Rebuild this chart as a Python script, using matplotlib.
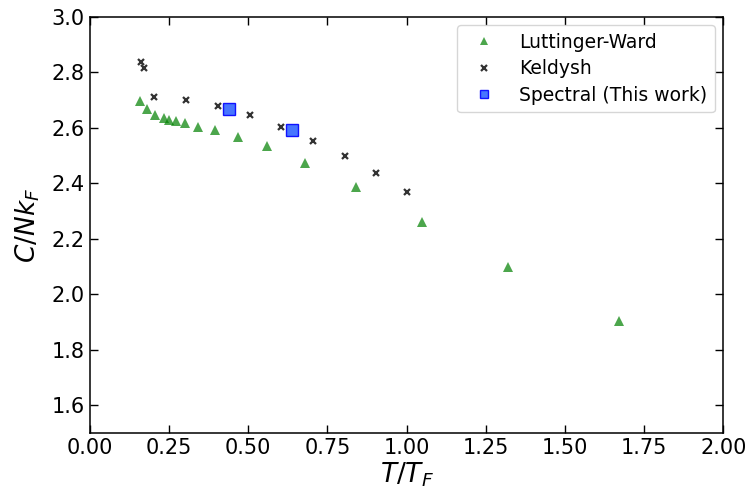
import matplotlib
matplotlib.use('Agg')
import matplotlib.pyplot as plt

# Contact C/Nk_F versus reduced temperature T/T_F
lw_t = [0.158, 0.181, 0.205, 0.233, 0.251, 0.272, 0.302, 0.342, 0.396,
        0.467, 0.559, 0.680, 0.839, 1.048, 1.319, 1.671]
lw_c = [2.695, 2.667, 2.646, 2.634, 2.629, 2.623, 2.617, 2.604, 2.593,
        2.568, 2.533, 2.473, 2.385, 2.259, 2.097, 1.902]

keldysh_t = [0.163, 0.172, 0.202, 0.304, 0.405, 0.506, 0.604, 0.706,
             0.805, 0.904, 1.002]
keldysh_c = [2.838, 2.817, 2.711, 2.701, 2.680, 2.648, 2.603, 2.553,
             2.499, 2.437, 2.368]

spectral_t = [0.439, 0.638]
spectral_c = [2.668, 2.594]

fig = plt.figure(figsize=(7.48, 4.96), dpi=100)
ax = fig.add_axes([0.120, 0.127, 0.847, 0.839])

ax.plot(lw_t, lw_c, '^', color='green', alpha=0.7, markersize=7,
        markeredgewidth=0, label='Luttinger-Ward')
ax.plot(keldysh_t, keldysh_c, 'x', color='black', alpha=0.8, markersize=5,
        markeredgewidth=1.6, label='Keldysh')
ax.plot(spectral_t, spectral_c, 's', color='#3366ff', markeredgecolor='blue',
        markeredgewidth=1.0, alpha=0.9, markersize=8,
        label='Spectral (This work)')

ax.set_xlim(0.0, 2.0)
ax.set_ylim(1.5, 3.0)
ax.set_xticks([0.0, 0.25, 0.5, 0.75, 1.0, 1.25, 1.5, 1.75, 2.0])
ax.set_yticks([1.6, 1.8, 2.0, 2.2, 2.4, 2.6, 2.8, 3.0])
ax.set_xlabel(r'$T/T_F$', fontsize=19, labelpad=2)
ax.set_ylabel(r'$C/Nk_F$', fontsize=19)
ax.yaxis.set_label_coords(-0.075, 0.5)
ax.tick_params(direction='in', top=True, right=True, labelsize=15,
               length=6, width=1.0)
for s in ax.spines.values():
    s.set_linewidth(1.1)
ax.legend(loc='upper right', fontsize=13.5, markerscale=0.8,
          handletextpad=0.9, borderaxespad=0.45, labelspacing=0.4)

fig.savefig('out.png', dpi=100)
